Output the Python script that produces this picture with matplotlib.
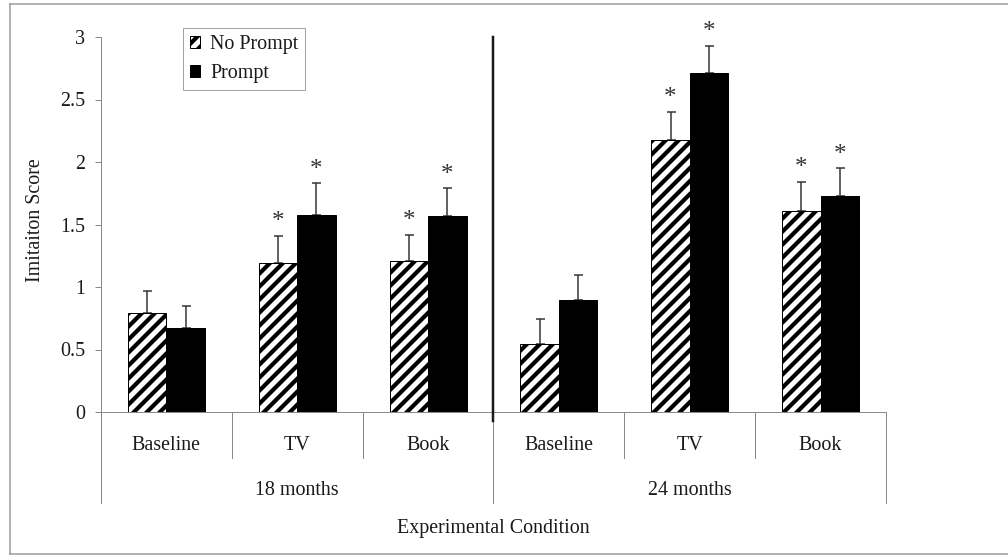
import matplotlib
matplotlib.use('Agg')
import matplotlib.pyplot as plt
import numpy as np
from matplotlib.lines import Line2D

DPI = 78  # hatch spacing in Agg follows the dpi, 78 with '//' gives ~13 px stripes


def pt(px):
    # pixel size -> points at this dpi
    return px * 72 / DPI


plt.rcParams['font.family'] = ['Liberation Serif', 'DejaVu Serif']
plt.rcParams['hatch.linewidth'] = pt(4.2)

# data
conditions = ['Baseline', 'TV', 'Book', 'Baseline', 'TV', 'Book']
ages = ['18 months', '24 months']
no_prompt = [0.79, 1.19, 1.21, 0.545, 2.18, 1.61]
prompt = [0.67, 1.58, 1.57, 0.90, 2.71, 1.73]
no_prompt_err = [0.18, 0.22, 0.21, 0.20, 0.22, 0.23]
prompt_err = [0.18, 0.25, 0.22, 0.20, 0.22, 0.22]
no_prompt_sig = [False, True, True, False, True, True]
prompt_sig = [False, True, True, False, True, True]
yticks = [0, 0.5, 1, 1.5, 2, 2.5, 3]
ytick_labels = ['0', '0.5', '1', '1.5', '2', '2.5', '3']

FS = pt(20)
GREY = '#8a8a8a'
INK = '#1a1a1a'

fig = plt.figure(figsize=(1008 / DPI, 555 / DPI), dpi=DPI)
ax = fig.add_axes([101 / 1008, 1 - 412 / 555, 785 / 1008, 375 / 555])

x = np.arange(len(conditions))
w = 0.294
ax.bar(x - w / 2, no_prompt, w, color='white', edgecolor='black', hatch='//',
       linewidth=pt(1), label='No Prompt', zorder=2)
ax.bar(x + w / 2, prompt, w, color='black', edgecolor='black',
       linewidth=pt(1), label='Prompt', zorder=2)

zeros = np.zeros(len(x))
for xs, vals, errs in [(x - w / 2, no_prompt, no_prompt_err), (x + w / 2, prompt, prompt_err)]:
    ax.errorbar(xs, vals, yerr=[zeros, errs], fmt='none', ecolor='#333333',
                elinewidth=pt(1.5), capsize=pt(4.5), capthick=pt(1.5), zorder=1)

# significance stars
for xs, vals, errs, sig in [(x - w / 2, no_prompt, no_prompt_err, no_prompt_sig),
                            (x + w / 2, prompt, prompt_err, prompt_sig)]:
    for xi, v, e, s in zip(xs, vals, errs, sig):
        if s:
            ax.text(xi, v + e + 0.06, '*', ha='center', va='baseline',
                    fontsize=pt(25), color='#333333')

ax.set_xlim(-0.5, 5.5)
ax.set_ylim(0, 3)
for side in ['top', 'right']:
    ax.spines[side].set_visible(False)
for side in ['left', 'bottom']:
    ax.spines[side].set_color(GREY)
    ax.spines[side].set_linewidth(pt(1))
ax.set_xticks([])
ax.set_yticks(yticks)
ax.set_yticklabels(ytick_labels)
ax.tick_params(axis='y', length=pt(6), width=pt(1), color=GREY,
               labelsize=FS, pad=pt(10), labelcolor=INK)

# category table below the axis
for b in [0.5, 1.5, 3.5, 4.5]:
    ax.plot([b, b], [0, -0.368], color=GREY, lw=pt(1), clip_on=False)
for b in [-0.5, 2.5, 5.5]:
    ax.plot([b, b], [0, -0.728], color=GREY, lw=pt(1), clip_on=False)
ax.plot([2.5, 2.5], [3, -0.072], color=INK, lw=pt(2.5), clip_on=False, zorder=3)

for i, c in enumerate(conditions):
    ax.text(i, -0.27, c, ha='center', va='center', fontsize=FS, color=INK)
for i, a in enumerate(ages):
    ax.text(1 + 3 * i, -0.63, a, ha='center', va='center', fontsize=FS, color=INK)
ax.text(2.5, -0.935, 'Experimental Condition', ha='center', va='center',
        fontsize=FS, color=INK)

fig.text(36 / 1008, 1 - 220 / 555, 'Imitaiton Score', rotation=90,
         ha='center', va='center', fontsize=FS, color=INK)

leg = ax.legend(loc='upper left', bbox_to_anchor=(183 / 1008, 1 - 28 / 555),
                bbox_transform=fig.transFigure, frameon=True, fancybox=False,
                edgecolor=GREY, fontsize=FS, handlelength=0.5, handleheight=0.5,
                handletextpad=0.5, borderpad=0.35, labelspacing=0.5,
                borderaxespad=0)
leg.get_frame().set_linewidth(pt(1))
for t in leg.get_texts():
    t.set_color(INK)

# outer frame (no right edge visible)
frame = dict(transform=fig.transFigure, color='#9a9a9a', lw=pt(1.5))
fig.add_artist(Line2D([10 / 1008, 1], [1 - 4 / 555, 1 - 4 / 555], **frame))
fig.add_artist(Line2D([10 / 1008, 10 / 1008], [1 - 4 / 555, 1 - 554 / 555], **frame))
fig.add_artist(Line2D([10 / 1008, 1], [1 - 554 / 555, 1 - 554 / 555], **frame))

fig.savefig('out.png', dpi=DPI)
